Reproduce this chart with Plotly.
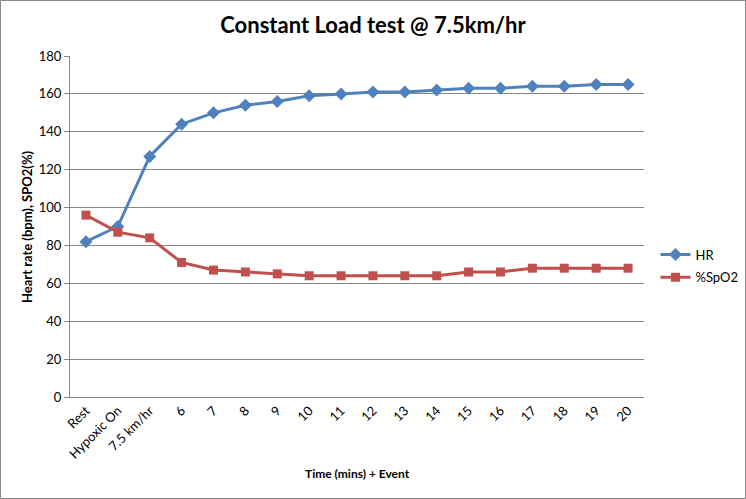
import plotly.graph_objects as go

categories = ["Rest", "Hypoxic On", "7.5 km/hr", "6", "7", "8", "9", "10", "11", "12",
              "13", "14", "15", "16", "17", "18", "19", "20"]
hr = [82, 90, 127, 144, 150, 154, 156, 159, 160, 161, 161, 162, 163, 163, 164, 164, 165, 165]
spo2 = [96, 87, 84, 71, 67, 66, 65, 64, 64, 64, 64, 64, 66, 66, 68, 68, 68, 68]
y_ticks = [0, 20, 40, 60, 80, 100, 120, 140, 160, 180]

W, H = 746, 499
L, R, T, B = 70, 102, 56, 102
pw, ph = W - L - R, H - T - B

font_family = "Lato, 'Open Sans', sans-serif"

fig = go.Figure()
fig.add_trace(go.Scatter(
    x=categories, y=hr, name="HR", mode="lines+markers", legendgroup="hr",
    line=dict(color="#4F81BD", width=3),
    marker=dict(symbol="diamond", size=10, color="#4F81BD"),
))
fig.add_trace(go.Scatter(
    x=categories, y=spo2, name="%SpO2", mode="lines+markers", legendgroup="spo2",
    line=dict(color="#C0504D", width=3),
    marker=dict(symbol="square", size=9, color="#C0504D"),
))

# outer chart border
x0 = (0.5 - L) / pw
x1 = (W - 0.5 - L) / pw
y0 = -(H - 0.5 - T - ph) / ph
y1 = 1 + (T - 0.5) / ph
fig.add_shape(type="rect", xref="paper", yref="paper", x0=x0, x1=x1, y0=y0, y1=y1,
              line=dict(color="#878787", width=1), fillcolor="rgba(0,0,0,0)", layer="below")

# axis titles as annotations
fig.add_annotation(text="<b>Time (mins) + Event</b>", xref="paper", yref="paper",
                   x=0.5, y=-(473 - T - ph) / ph, xanchor="center", yanchor="middle",
                   showarrow=False, font=dict(size=12, color="black"))
fig.add_annotation(text="<b>Heart rate (bpm), SPO2(%)</b>", xref="paper", yref="paper",
                   x=(27 - L) / pw, y=(397 - 227) / ph, xanchor="center", yanchor="middle",
                   textangle=-90, showarrow=False, font=dict(size=13, color="black"))

fig.update_layout(
    width=W, height=H,
    margin=dict(l=L, r=R, t=T, b=B, autoexpand=False),
    paper_bgcolor="white", plot_bgcolor="white",
    font=dict(family=font_family, size=13, color="black"),
    title=dict(text="<b>Constant Load test @ 7.5km/hr</b>", x=0.5, xref="container",
               y=1 - 25 / H, yanchor="middle", font=dict(size=22, color="black")),
    showlegend=True,
    legend=dict(x=1.02, y=(397 - 266) / ph, xanchor="left", yanchor="middle",
                font=dict(size=13), tracegroupgap=3, itemwidth=30,
                bgcolor="rgba(0,0,0,0)"),
    xaxis=dict(
        type="category", tickangle=-45, showgrid=False, automargin=False,
        showline=True, linecolor="#878787", linewidth=1,
        ticks="", tickfont=dict(size=13),
        range=[-0.5, len(categories) - 0.5],
    ),
    yaxis=dict(
        range=[0, 180], tickvals=y_ticks, showgrid=True, gridcolor="#878787", gridwidth=1,
        showline=True, linecolor="#878787", linewidth=1, automargin=False,
        ticks="outside", ticklen=5, tickcolor="#878787",
        tickfont=dict(size=13), zeroline=False,
    ),
)

fig.write_html("out.html", config={"displayModeBar": False},
               post_script="document.body.style.margin='0';")
